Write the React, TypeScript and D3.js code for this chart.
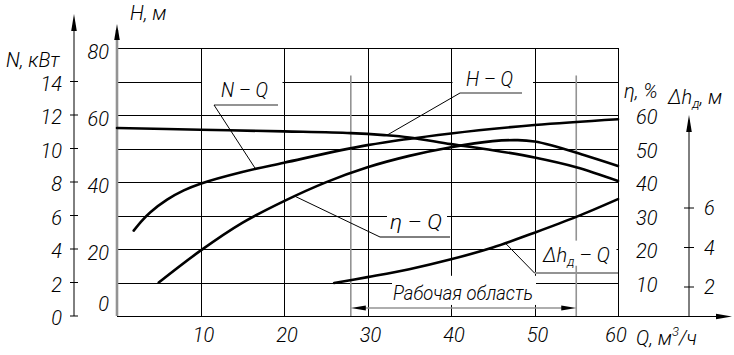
import React from 'react';
import * as d3 from 'd3';

// ---- data ----
const hQ = [0, 10, 20, 28, 32, 35, 40, 45, 50, 55, 60];
const hVals = [56.1, 55.6, 55.1, 54.6, 54.0, 53.3, 51.3, 49.5, 47.3, 44.4, 40.3];

const nQ = [2, 3, 4, 6, 8, 10, 15, 20, 30, 40, 50, 60];
const nVals = [5.1, 5.7, 6.2, 6.95, 7.5, 7.9, 8.6, 9.15, 10.2, 10.9, 11.4, 11.75];

const etaQ = [5, 10, 15, 20, 25, 30, 35, 40, 45, 48, 50, 52, 56, 60];
const etaVals = [10, 19.5, 27.8, 34.3, 39.9, 44.4, 47.8, 50.4, 52.2, 52.5, 52.1, 51.0, 48.0, 44.8];

const dhQ = [26, 30, 35, 40, 45, 50, 55, 60];
const dhVals = [2.2, 2.5, 2.9, 3.4, 4.0, 4.75, 5.55, 6.45];

const qTicks = [10, 20, 30, 40, 50, 60];
const hGrid = [10, 20, 30, 40, 50, 60, 70, 80];
const hTicks = [0, 20, 40, 60, 80];
const nTicks = [0, 2, 4, 6, 8, 10, 12, 14];
const etaTicks = [10, 20, 30, 40, 50, 60];
const dhTicks = [2, 4, 6];
const workArea = [28, 55];

const FONT = "Roboto, 'Liberation Sans', Arial, sans-serif";
const GREY = '#939393';

function arrow(x: number, y: number, dir: 'up' | 'right' | 'left', len = 16, w = 3) {
  if (dir === 'up') return `M${x},${y} L${x - w},${y + len} L${x + w},${y + len} Z`;
  if (dir === 'right') return `M${x},${y} L${x - len},${y - w} L${x - len},${y + w} Z`;
  return `M${x},${y} L${x + len},${y - w} L${x + len},${y + w} Z`;
}

export default function App() {
  const xQ = d3.scaleLinear().domain([0, 60]).range([117, 618]);
  const yH = d3.scaleLinear().domain([0, 80]).range([316, 48]);
  const yN = d3.scaleLinear().domain([0, 14]).range([316, 81.5]);
  const yDh = d3.scaleLinear().domain([2, 6]).range([287, 208]);

  const mk = (qs: number[], vs: number[], ys: d3.ScaleLinear<number, number>) =>
    d3
      .line<number>()
      .x((_, i) => xQ(qs[i]))
      .y((v) => ys(v))
      .curve(d3.curveCatmullRom.alpha(0.5))(vs) as string;

  const at = (qs: number[], vs: number[]) => d3.scaleLinear().domain(qs).range(vs);
  const hAt = at(hQ, hVals);
  const nAt = at(nQ, nVals);
  const etaAt = at(etaQ, etaVals);
  const dhAt = at(dhQ, dhVals);

  const txt = { fontFamily: FONT, fontStyle: 'italic' as const, fontWeight: 300, fontSize: 20, fill: '#000' };
  const x0 = xQ(0);
  const x60 = xQ(60);
  const yTop = yH(80);
  const yBot = yH(0);
  const xN = 74;
  const xDh = 689;

  const nLead = 16.6;
  const hLead = 32.3;
  const eLead = 21.3;
  const dLead = 46.5;

  return (
    <svg width={734} height={355} style={{ position: 'absolute', left: 0, top: 0, background: '#fff' }}>
      <rect x={0} y={0} width={734} height={355} fill="#fff" />
      {/* grid */}
      <g stroke="#000" strokeWidth={1} shapeRendering="crispEdges">
        {hGrid.map((h) => (
          <line key={'h' + h} x1={x0} x2={x60} y1={Math.round(yH(h)) + 0.5} y2={Math.round(yH(h)) + 0.5} />
        ))}
        {qTicks.map((q) => (
          <line key={'v' + q} x1={Math.round(xQ(q)) + 0.5} x2={Math.round(xQ(q)) + 0.5} y1={yTop} y2={yBot} />
        ))}
      </g>
      {/* working area extension lines */}
      {workArea.map((q) => (
        <line key={'wa' + q} x1={xQ(q)} x2={xQ(q)} y1={yH(71.8)} y2={yBot} stroke={GREY} strokeWidth={1.6} />
      ))}
      {/* masks where labels break gridlines */}
      <g fill="#fff">
        <rect x={xQ(10) + 1.5} y={yH(72.5)} width={xQ(20) - xQ(10) - 3} height={yH(65) - yH(72.5)} />
        <rect x={xQ(40) + 1.5} y={yH(74)} width={xQ(50) - xQ(40) - 3} height={yH(67.5) - yH(74)} />
        <rect x={387} y={yH(32.5)} width={60} height={yH(25.5) - yH(32.5)} />
        <rect x={xQ(50) + 1.5} y={yH(22.5)} width={xQ(60) - xQ(50) - 3} height={yH(15) - yH(22.5)} />
        <rect x={392} y={yH(12)} width={144} height={yH(3.3) - yH(12)} />
      </g>
      {/* bottom axis with arrow */}
      <line x1={x0} x2={728} y1={yBot + 0.5} y2={yBot + 0.5} stroke="#000" strokeWidth={1.2} />
      <path d={arrow(732, yBot + 0.5, 'right', 16, 2.8)} fill="#000" />
      {/* H axis (grey) */}
      <line x1={x0} x2={x0} y1={30} y2={yBot} stroke={GREY} strokeWidth={2.6} />
      <path d={arrow(x0, 24, 'up', 16, 2.8)} fill="#000" />
      {/* N axis */}
      <line x1={xN} x2={xN} y1={20} y2={yBot} stroke="#000" strokeWidth={1} />
      <path d={arrow(xN, 14, 'up', 17, 2.8)} fill="#000" />
      {nTicks.map((n) => (
        <line key={'nt' + n} x1={xN - 4} x2={xN + 4} y1={yN(n)} y2={yN(n)} stroke="#000" strokeWidth={1} />
      ))}
      {/* Δh axis */}
      <line x1={xDh} x2={xDh} y1={120} y2={yBot} stroke="#000" strokeWidth={1} />
      <path d={arrow(xDh, 115, 'up', 17, 2.8)} fill="#000" />
      {dhTicks.map((d) => (
        <line key={'dt' + d} x1={xDh - 5} x2={xDh + 5} y1={yDh(d)} y2={yDh(d)} stroke="#000" strokeWidth={1} />
      ))}

      {/* working area dimension */}
      <line x1={xQ(workArea[0]) + 10} x2={xQ(workArea[1]) - 10} y1={yH(2.4)} y2={yH(2.4)} stroke={GREY} strokeWidth={1.6} />
      <path d={arrow(xQ(workArea[0]), yH(2.4), 'left', 15, 2.5)} fill="#000" />
      <path d={arrow(xQ(workArea[1]), yH(2.4), 'right', 15, 2.5)} fill="#000" />
      <text {...txt} x={393} y={300} textLength={140} lengthAdjust="spacingAndGlyphs">
        Рабочая область
      </text>

      {/* curves */}
      <g fill="none" stroke="#000" strokeWidth={2.6} strokeLinecap="round">
        <path d={mk(hQ, hVals, yH)} />
        <path d={mk(nQ, nVals, yN)} />
        <path d={mk(etaQ, etaVals, yH)} />
        <path d={mk(dhQ, dhVals, yDh)} />
      </g>

      {/* labels with leaders */}
      <g>
        <line x1={214} x2={278} y1={105} y2={105} stroke={GREY} strokeWidth={2} />
        <line x1={214} y1={105} x2={xQ(nLead)} y2={yN(nAt(nLead))} stroke="#000" strokeWidth={1} />
        <text {...txt} x={221} y={97} textLength={47} lengthAdjust="spacingAndGlyphs">N – Q</text>

        <line x1={460} x2={522} y1={93} y2={93} stroke={GREY} strokeWidth={2} />
        <line x1={460} y1={93} x2={xQ(hLead)} y2={yH(hAt(hLead))} stroke="#000" strokeWidth={1} />
        <text {...txt} x={466} y={86} textLength={47} lengthAdjust="spacingAndGlyphs">H – Q</text>

        <line x1={380} x2={450} y1={237} y2={237} stroke="#000" strokeWidth={1} />
        <line x1={380} y1={237} x2={xQ(eLead)} y2={yH(etaAt(eLead))} stroke="#000" strokeWidth={1} />
        <text {...txt} x={390} y={229} textLength={52} lengthAdjust="spacingAndGlyphs">η – Q</text>

        <line x1={xQ(50)} x2={xQ(60)} y1={273} y2={273} stroke={GREY} strokeWidth={2} />
        <line x1={xQ(50)} y1={273} x2={xQ(dLead)} y2={yDh(dhAt(dLead))} stroke="#000" strokeWidth={1} />
        <text {...txt} x={543} y={262}>
          Δh<tspan fontSize={13} dy={4}>д</tspan>
          <tspan dy={-4}> – Q</tspan>
        </text>
      </g>

      {/* tick labels */}
      {nTicks.map((n) => (
        <text key={'nl' + n} {...txt} x={62} y={yN(n) + 9} textAnchor="end">
          {n}
        </text>
      ))}
      {hTicks.map((h) => (
        <text key={'hl' + h} {...txt} x={109} y={h === 0 ? yH(h) - 5 : yH(h) + 11} textAnchor="end">
          {h}
        </text>
      ))}
      {etaTicks.map((e) => (
        <text key={'el' + e} {...txt} x={636} y={yH(e) + 9}>
          {e}
        </text>
      ))}
      {dhTicks.map((d) => (
        <text key={'dl' + d} {...txt} x={704} y={yDh(d) + 7}>
          {d}
        </text>
      ))}
      {qTicks.map((q) => (
        <text key={'ql' + q} {...txt} x={q === 60 ? xQ(q) - 2 : xQ(q) + 3} y={342} textAnchor="middle">
          {q}
        </text>
      ))}

      {/* axis titles */}
      <text {...txt} x={6} y={67}>N, кВт</text>
      <text {...txt} x={130} y={20}>H, м</text>
      <text {...txt} x={624} y={98}>η, %</text>
      <text {...txt} x={668} y={104}>
        Δh<tspan fontSize={13} dy={4}>д</tspan>
        <tspan dy={-4}>, м</tspan>
      </text>
      <text {...txt} x={636} y={345}>
        Q, м<tspan fontSize={13} dy={-9}>3</tspan>
        <tspan dy={9}>/ч</tspan>
      </text>
    </svg>
  );
}
